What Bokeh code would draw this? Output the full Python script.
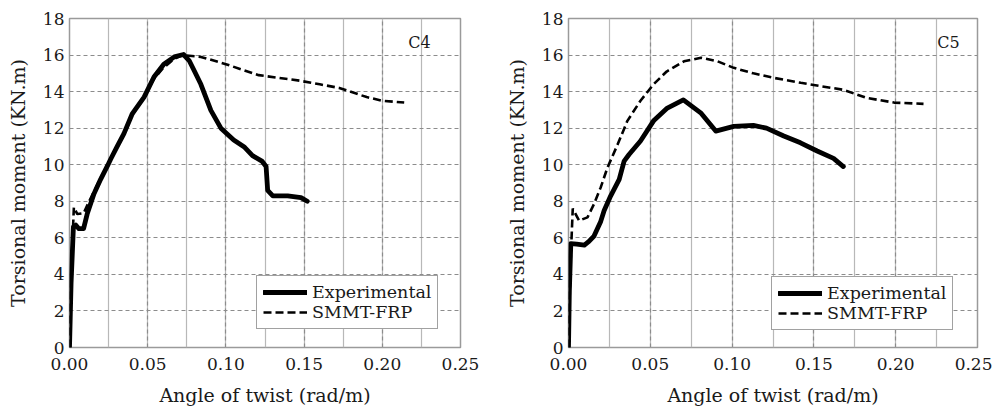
from bokeh.plotting import figure
from bokeh.layouts import row
from bokeh.models import (Range1d, SingleIntervalTicker, PrintfTickFormatter,
                          Legend, LegendItem, Label)
from bokeh.embed import file_html
from bokeh.resources import INLINE

# ---- data ----
c4_exp_t = [0, 0.001, 0.0025, 0.004, 0.006, 0.009, 0.0113, 0.0156, 0.0199, 0.0244,
            0.0263, 0.0305, 0.0348, 0.0402, 0.0477, 0.054, 0.0603, 0.067, 0.0729,
            0.0765, 0.080, 0.084, 0.0904, 0.0968, 0.105, 0.112, 0.117, 0.123, 0.1257,
            0.1267, 0.13, 0.1395, 0.148, 0.152]
c4_exp_m = [0, 3.5, 6.6, 6.7, 6.5, 6.5, 7.3, 8.4, 9.2, 9.96,
            10.3, 11.0, 11.7, 12.8, 13.7, 14.8, 15.5, 15.9, 16.03,
            15.7, 15.1, 14.4, 12.97, 12.0, 11.35, 10.95, 10.5, 10.2, 9.9,
            8.6, 8.3, 8.3, 8.2, 8.0]

c4_fe_t = [0, 0.0015, 0.0028, 0.005, 0.0091, 0.012, 0.016, 0.02, 0.025, 0.03, 0.035,
           0.04, 0.047, 0.054, 0.06, 0.067, 0.072, 0.084, 0.1, 0.121, 0.147, 0.16,
           0.1725, 0.19, 0.2, 0.214]
c4_fe_m = [0, 5.0, 7.67, 7.3, 7.35, 7.9, 8.6, 9.3, 10.1, 10.9, 11.7,
           12.7, 13.6, 14.7, 15.3, 15.8, 16.0, 15.9, 15.5, 14.9, 14.6, 14.4,
           14.2, 13.7, 13.5, 13.4]

c5_exp_t = [0, 0.0005, 0.0014, 0.005, 0.0097, 0.0125, 0.0156, 0.0197, 0.0218, 0.0258,
            0.031, 0.034, 0.037, 0.044, 0.052, 0.0604, 0.0702, 0.0808, 0.09, 0.101,
            0.113, 0.121, 0.1316, 0.1418, 0.152, 0.162, 0.168]
c5_exp_m = [0, 3.0, 5.68, 5.65, 5.6, 5.8, 6.1, 6.9, 7.5, 8.3,
            9.2, 10.2, 10.56, 11.3, 12.4, 13.1, 13.55, 12.84, 11.84, 12.1,
            12.15, 12.0, 11.57, 11.2, 10.75, 10.35, 9.9]

c5_fe_t = [0, 0.0012, 0.0026, 0.0065, 0.0116, 0.0156, 0.0197, 0.0238, 0.03, 0.036,
           0.044, 0.052, 0.06, 0.0706, 0.081, 0.091, 0.101, 0.113, 0.1255, 0.142,
           0.154, 0.168, 0.182, 0.199, 0.217]
c5_fe_m = [0, 4.5, 7.6, 6.94, 7.12, 7.85, 8.76, 9.84, 11.1, 12.4,
           13.5, 14.4, 15.1, 15.66, 15.85, 15.66, 15.3, 15.0, 14.75, 14.48,
           14.3, 14.1, 13.66, 13.4, 13.33]

x_ticks_interval = 0.05
y_ticks_interval = 2
panel_names = ["C4", "C5"]
series_names = ["Experimental", "SMMT-FRP"]
x_title = "Angle of twist (rad/m)"
y_title = "Torsional moment (KN.m)"

FONT = "DejaVu Serif"


def make_panel(exp_t, exp_m, fe_t, fe_m, name, width, frame_w, borders, name_pos, leg_loc):
    p = figure(width=width, height=405, frame_width=frame_w, frame_height=329,
               output_backend="svg", toolbar_location=None,
               x_range=Range1d(0, 0.25), y_range=Range1d(0, 18),
               min_border_left=borders[0], min_border_right=borders[1],
               min_border_top=borders[2], min_border_bottom=borders[3])
    p.background_fill_color = "white"
    p.border_fill_color = "white"
    p.outline_line_color = "#9a9a9a"
    p.outline_line_width = 1.5

    p.xaxis.ticker = SingleIntervalTicker(interval=x_ticks_interval, num_minor_ticks=2)
    p.yaxis.ticker = SingleIntervalTicker(interval=y_ticks_interval, num_minor_ticks=0)
    p.xaxis.formatter = PrintfTickFormatter(format="%.2f")
    for ax in (p.xaxis, p.yaxis):
        ax.axis_line_color = None
        ax.major_tick_line_color = None
        ax.minor_tick_line_color = None
        ax.major_tick_out = 0
        ax.major_label_text_font = FONT
        ax.major_label_text_font_size = "17px"
        ax.major_label_text_color = "#1a1a1a"
        ax.axis_label_text_font = FONT
        ax.axis_label_text_font_size = "19px"
        ax.axis_label_text_font_style = "normal"
        ax.axis_label_text_color = "#1a1a1a"
    p.xaxis.major_label_standoff = 6
    p.yaxis.major_label_standoff = 5
    p.xaxis.axis_label = x_title
    p.yaxis.axis_label = y_title
    p.xaxis.axis_label_standoff = 11
    p.yaxis.axis_label_standoff = 11

    p.xgrid.grid_line_color = "#8c8c8c"
    p.xgrid.grid_line_dash = "4 3"
    p.xgrid.grid_line_width = 1.2
    p.xgrid.minor_grid_line_color = "#b8b8b8"
    p.xgrid.minor_grid_line_width = 1.2
    p.ygrid.grid_line_color = "#8c8c8c"
    p.ygrid.grid_line_dash = "4 3"
    p.ygrid.grid_line_width = 1.2

    r_fe = p.line(fe_t, fe_m, line_color="black", line_width=2.6, line_dash="8 4")
    r_exp = p.line(exp_t, exp_m, line_color="black", line_width=4.8,
                   line_join="round", line_cap="round")

    legend = Legend(items=[LegendItem(label=series_names[0], renderers=[r_exp]),
                           LegendItem(label=series_names[1], renderers=[r_fe])],
                    location=leg_loc)
    legend.label_text_font = FONT
    legend.label_text_font_size = "17.5px"
    legend.label_text_color = "#1a1a1a"
    legend.label_text_line_height = 1.0
    legend.glyph_width = 44
    legend.glyph_height = 18
    legend.label_height = 18
    legend.label_standoff = 5
    legend.padding = 6
    legend.spacing = 0
    legend.margin = 0
    legend.border_line_color = "#444444"
    legend.border_line_width = 1.5
    legend.background_fill_alpha = 1.0
    p.add_layout(legend, "center")

    p.add_layout(Label(x=name_pos[0], y=name_pos[1], text=name, text_font=FONT,
                       text_font_size="16px", text_align="center",
                       text_baseline="middle", text_color="#1a1a1a"))
    return p


p1 = make_panel(c4_exp_t, c4_exp_m, c4_fe_t, c4_fe_m, panel_names[0], 498, 391,
                (69, 38, 18, 58), (0.2237, 16.7), (187, 18))
p2 = make_panel(c5_exp_t, c5_exp_m, c5_fe_t, c5_fe_m, panel_names[1], 494, 409,
                (70, 15, 18, 58), (0.2323, 16.7), (203, 17))

layout = row(p1, p2)
open("out.html", "w").write(file_html(layout, INLINE))
